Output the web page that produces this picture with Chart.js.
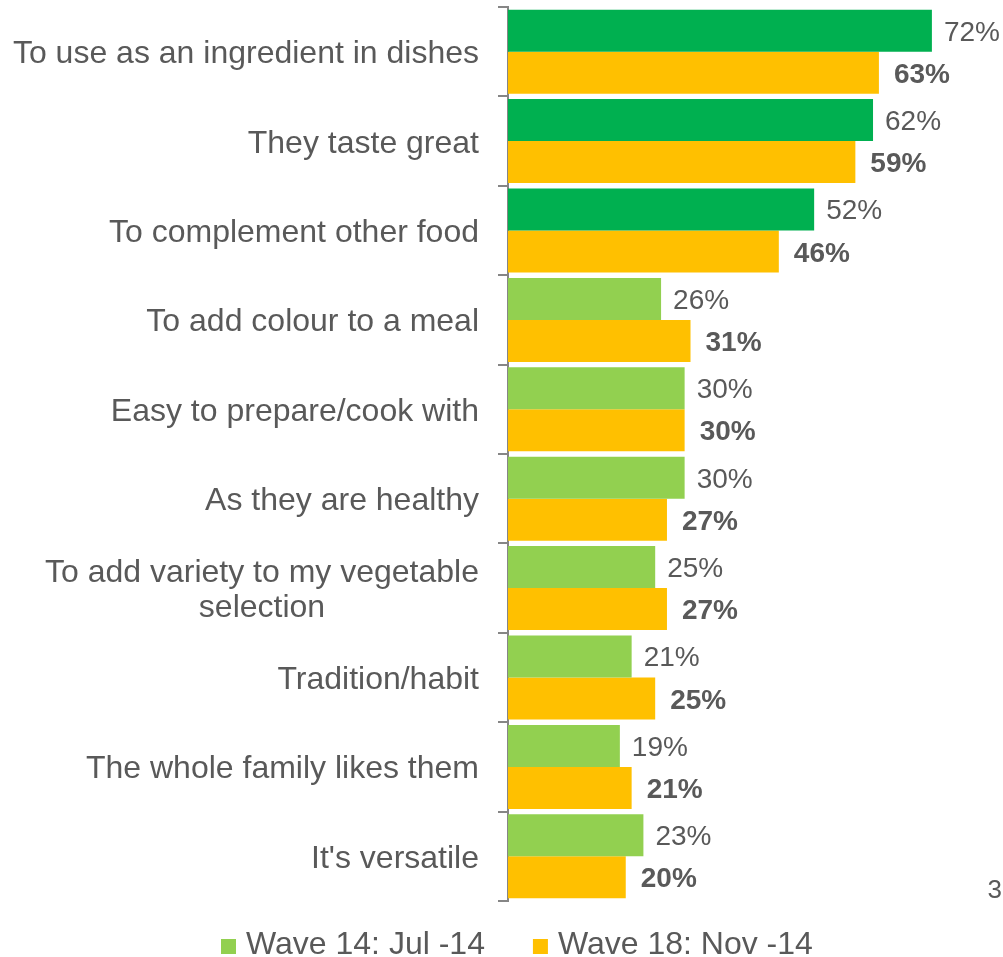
<!DOCTYPE html>
<html>
<head>
<meta charset="utf-8">
<script src="https://cdn.jsdelivr.net/npm/chart.js@4/dist/chart.umd.min.js"></script>
<style>
  html, body { margin: 0; padding: 0; background: #fff; }
  #wrap { width: 1003px; height: 957px; position: relative; }
</style>
</head>
<body>
<div id="wrap"><canvas id="reasons"></canvas></div>
<script>
// Reasons for buying, two survey waves
const categories = [
    ['To use as an ingredient in dishes'],
    ['They taste great'],
    ['To complement other food'],
    ['To add colour to a meal'],
    ['Easy to prepare/cook with'],
    ['As they are healthy'],
    ['To add variety to my vegetable', 'selection'],
    ['Tradition/habit'],
    ['The whole family likes them'],
    ["It's versatile"]
];
const seriesNames = ['Wave 14: Jul -14', 'Wave 18: Nov -14'];
const wave14 = [72, 62, 52, 26, 30, 30, 25, 21, 19, 23];
const wave18 = [63, 59, 46, 31, 30, 27, 27, 25, 21, 20];
const pageNumber = '3';

const FONT = '"Liberation Sans", Arial, sans-serif';
const TEXT = '#595959';
const AXIS = '#868686';
const DARK_GREEN = '#00B050';
const LIGHT_GREEN = '#92D050';
const YELLOW = '#FFC000';

// top three reasons of the earlier wave get the darker green
const wave14Colors = wave14.map((v, i) => (i < 3 ? DARK_GREEN : LIGHT_GREEN));

const annotate = {
    id: 'annotate',
    afterDatasetsDraw(chart) {
        const ctx = chart.ctx;
        ctx.save();
        ctx.fillStyle = TEXT;
        ctx.textAlign = 'left';
        ctx.textBaseline = 'alphabetic';
        chart.data.datasets.forEach((ds, di) => {
            const meta = chart.getDatasetMeta(di);
            const bold = di === 1;
            ctx.font = (bold ? 'bold ' : '') + '28px ' + FONT;
            meta.data.forEach((bar, i) => {
                ctx.fillText(ds.data[i] + '%', bar.x + (bold ? 15 : 12), bar.y + 10);
            });
        });
        ctx.restore();
    },
    afterDraw(chart) {
        const ctx = chart.ctx;
        const y = chart.scales.y;
        ctx.save();
        ctx.fillStyle = TEXT;
        ctx.textBaseline = 'alphabetic';
        ctx.font = '32px ' + FONT;

        // category labels, block right-aligned, lines centred within it
        const right = 479;
        const lineH = 35;
        categories.forEach((lines, i) => {
            const cy = y.getPixelForValue(i);
            const widths = lines.map(l => ctx.measureText(l).width);
            const maxW = Math.max(...widths);
            const mid = right - maxW / 2;
            ctx.textAlign = 'center';
            lines.forEach((l, k) => {
                const off = (k - (lines.length - 1) / 2) * lineH;
                ctx.fillText(l, mid, cy + off + 11.5);
            });
        });

        // legend
        const colors = [LIGHT_GREEN, YELLOW];
        let lx = 221;
        ctx.textAlign = 'left';
        seriesNames.forEach((name, i) => {
            ctx.fillStyle = colors[i];
            ctx.fillRect(lx, 939, 15, 15);
            ctx.fillStyle = TEXT;
            ctx.fillText(name, lx + 25, 954);
            lx += 25 + ctx.measureText(name).width + 48;
        });

        // page number
        ctx.font = '26px ' + FONT;
        ctx.textAlign = 'right';
        ctx.fillText(pageNumber, 1002, 898);
        ctx.restore();
    }
};

new Chart(document.getElementById('reasons'), {
    type: 'bar',
    data: {
        labels: categories,
        datasets: [
            {
                label: seriesNames[0],
                data: wave14,
                backgroundColor: wave14Colors,
                categoryPercentage: 0.94,
                barPercentage: 1
            },
            {
                label: seriesNames[1],
                data: wave18,
                backgroundColor: YELLOW,
                categoryPercentage: 0.94,
                barPercentage: 1
            }
        ]
    },
    options: {
        indexAxis: 'y',
        responsive: true,
        maintainAspectRatio: false,
        animation: false,
        layout: {
            padding: { left: 0, right: 24, top: 7, bottom: 56 }
        },
        plugins: {
            legend: { display: false },
            tooltip: { enabled: false }
        },
        scales: {
            x: {
                display: false,
                min: 0,
                max: 80
            },
            y: {
                offset: true,
                afterFit: function(scale) {
                    scale.width = 508;
                },
                grid: {
                    offset: true,
                    drawOnChartArea: false,
                    drawTicks: true,
                    tickLength: 10,
                    color: AXIS,
                    lineWidth: 2
                },
                border: {
                    display: true,
                    color: AXIS,
                    width: 2
                },
                ticks: {
                    display: false
                }
            }
        }
    },
    plugins: [annotate]
});
</script>
</body>
</html>
